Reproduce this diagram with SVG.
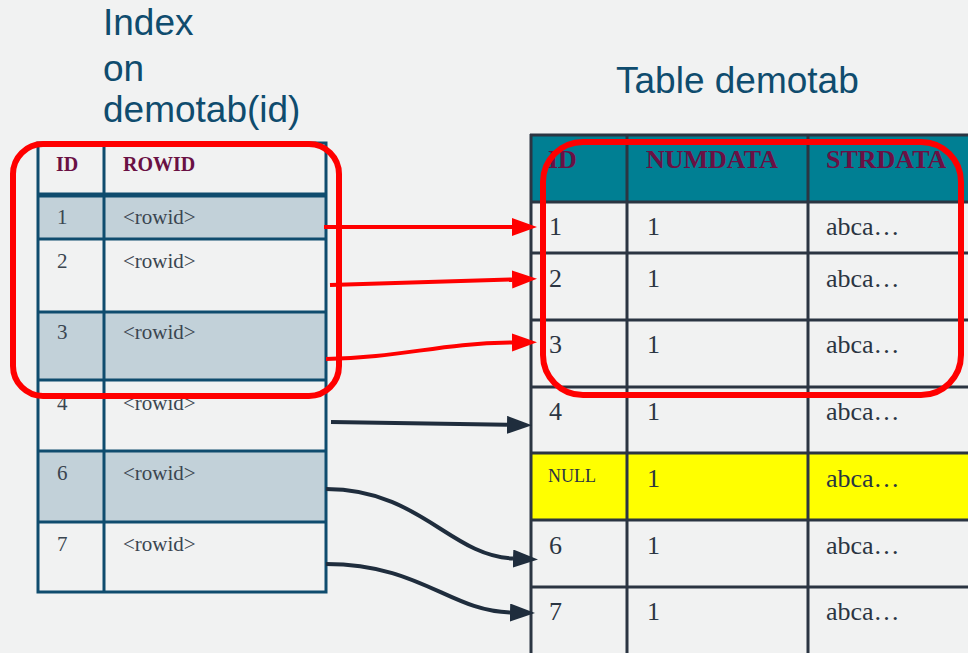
<svg xmlns="http://www.w3.org/2000/svg" width="968" height="653" viewBox="0 0 968 653">
  <style>
    .title { font-family: "Liberation Sans", Arial, sans-serif; font-size: 37px; fill: #0f4c6e; }
    .ihead { font-family: "Liberation Serif", "Times New Roman", serif; font-size: 20px; font-weight: bold; fill: #6a1044; }
    .icell { font-family: "Liberation Serif", "Times New Roman", serif; font-size: 21px; fill: #3a4550; }
    .thead { font-family: "Liberation Serif", "Times New Roman", serif; font-size: 26px; font-weight: bold; fill: #6a1044; }
    .tcell { font-family: "Liberation Serif", "Times New Roman", serif; font-size: 26px; fill: #2b3542; }
    .tnull { font-family: "Liberation Serif", "Times New Roman", serif; font-size: 18px; fill: #2b3542; }
    .iline { stroke: #0f4c6e; stroke-width: 3; fill: none; }
    .tline { stroke: #2b3542; stroke-width: 3; fill: none; }
    .shade { fill: #c2d1d9; }
    .red { stroke: #ff0000; stroke-width: 4; fill: none; }
    .dark { stroke: #1f2d3d; stroke-width: 4; fill: none; }
    .hl { stroke: #ff0000; stroke-width: 6; fill: none; }
  </style>
  <defs>
    <marker id="headRed" markerUnits="userSpaceOnUse" markerWidth="26" markerHeight="20" refX="0" refY="9" orient="auto">
      <polygon points="0,0 25,9 0,18" fill="#ff0000"/>
    </marker>
    <marker id="headDark" markerUnits="userSpaceOnUse" markerWidth="26" markerHeight="20" refX="0" refY="9" orient="auto">
      <polygon points="0,0 25,9 0,18" fill="#1f2d3d"/>
    </marker>
  </defs>

  <rect width="968" height="653" fill="#f1f2f2"/>

  <!-- Titles -->
  <g id="title-index">
    <text class="title" x="103" y="35">Index</text>
    <text class="title" x="103" y="81">on</text>
    <text class="title" x="103" y="122">demotab(id)</text>
  </g>
  <g id="title-table">
    <text class="title" x="616" y="93">Table demotab</text>
  </g>

  <!-- Index on demotab(id) -->
  <g id="index-table">
    <rect class="shade" x="38" y="197" width="288" height="42"/>
    <rect class="shade" x="38" y="312" width="288" height="68"/>
    <rect class="shade" x="38" y="451" width="288" height="71"/>
    <rect class="iline" x="38" y="143" width="288" height="449"/>
    <line x1="38" y1="195" x2="326" y2="195" stroke="#0f4c6e" stroke-width="5"/>
    <line class="iline" x1="38" y1="239" x2="326" y2="239"/>
    <line class="iline" x1="38" y1="312" x2="326" y2="312"/>
    <line class="iline" x1="38" y1="380" x2="326" y2="380"/>
    <line class="iline" x1="38" y1="451" x2="326" y2="451"/>
    <line class="iline" x1="38" y1="522" x2="326" y2="522"/>
    <line class="iline" x1="104" y1="143" x2="104" y2="592"/>
    <text class="ihead" x="56" y="171">ID</text>
    <text class="ihead" x="123" y="171">ROWID</text>
    <text class="icell" x="57" y="224">1</text><text class="icell" x="123" y="224">&lt;rowid&gt;</text>
    <text class="icell" x="57" y="268">2</text><text class="icell" x="123" y="268">&lt;rowid&gt;</text>
    <text class="icell" x="57" y="339">3</text><text class="icell" x="123" y="339">&lt;rowid&gt;</text>
    <text class="icell" x="57" y="410">4</text><text class="icell" x="123" y="410">&lt;rowid&gt;</text>
    <text class="icell" x="57" y="480">6</text><text class="icell" x="123" y="480">&lt;rowid&gt;</text>
    <text class="icell" x="57" y="551">7</text><text class="icell" x="123" y="551">&lt;rowid&gt;</text>
  </g>

  <!-- Table demotab -->
  <g id="demotab">
    <rect x="530" y="135" width="440" height="67" fill="#007f93"/>
    <rect x="530" y="453" width="440" height="67" fill="#ffff00"/>
    <line class="tline" x1="530" y1="135" x2="970" y2="135"/>
    <line class="tline" x1="530" y1="202" x2="970" y2="202"/>
    <line class="tline" x1="530" y1="253" x2="970" y2="253"/>
    <line class="tline" x1="530" y1="320" x2="970" y2="320"/>
    <line class="tline" x1="530" y1="387" x2="970" y2="387"/>
    <line class="tline" x1="530" y1="453" x2="970" y2="453"/>
    <line class="tline" x1="530" y1="520" x2="970" y2="520"/>
    <line class="tline" x1="530" y1="587" x2="970" y2="587"/>
    <line class="tline" x1="531" y1="134" x2="531" y2="655"/>
    <line class="tline" x1="627" y1="134" x2="627" y2="655"/>
    <line class="tline" x1="808" y1="134" x2="808" y2="655"/>
    <text class="thead" x="548" y="168">ID</text>
    <text class="thead" x="646" y="168">NUMDATA</text>
    <text class="thead" x="826" y="168">STRDATA</text>
    <text class="tcell" x="549" y="235">1</text><text class="tcell" x="647" y="235">1</text><text class="tcell" x="826" y="235">abca…</text>
    <text class="tcell" x="549" y="287">2</text><text class="tcell" x="647" y="287">1</text><text class="tcell" x="826" y="287">abca…</text>
    <text class="tcell" x="549" y="353">3</text><text class="tcell" x="647" y="353">1</text><text class="tcell" x="826" y="353">abca…</text>
    <text class="tcell" x="549" y="420">4</text><text class="tcell" x="647" y="420">1</text><text class="tcell" x="826" y="420">abca…</text>
    <text class="tnull" x="548" y="482">NULL</text><text class="tcell" x="647" y="487">1</text><text class="tcell" x="826" y="487">abca…</text>
    <text class="tcell" x="549" y="554">6</text><text class="tcell" x="647" y="554">1</text><text class="tcell" x="826" y="554">abca…</text>
    <text class="tcell" x="549" y="620">7</text><text class="tcell" x="647" y="620">1</text><text class="tcell" x="826" y="620">abca…</text>
  </g>

  <!-- Index entries pointing at table rows -->
  <g id="connectors">
    <path class="red" d="M324,227 H512" marker-end="url(#headRed)"/>
    <path class="red" d="M330,285 L512,279.5" marker-end="url(#headRed)"/>
    <path class="red" d="M326,359 C400,358 440,343 512,342.5" marker-end="url(#headRed)"/>
    <path class="dark" d="M331,422 L507,424.8" marker-end="url(#headDark)"/>
    <path class="dark" d="M326,489 C420,489 450,556 513,558.5" marker-end="url(#headDark)"/>
    <path class="dark" d="M326,564 C420,564 450,611 510,612.5" marker-end="url(#headDark)"/>
  </g>

  <!-- Highlight frames around the matching rows -->
  <g id="highlight-index">
    <rect class="hl" x="13" y="144" width="326" height="252" rx="30"/>
  </g>
  <g id="highlight-table">
    <rect class="hl" x="543" y="142" width="418" height="253" rx="40"/>
  </g>
</svg>
